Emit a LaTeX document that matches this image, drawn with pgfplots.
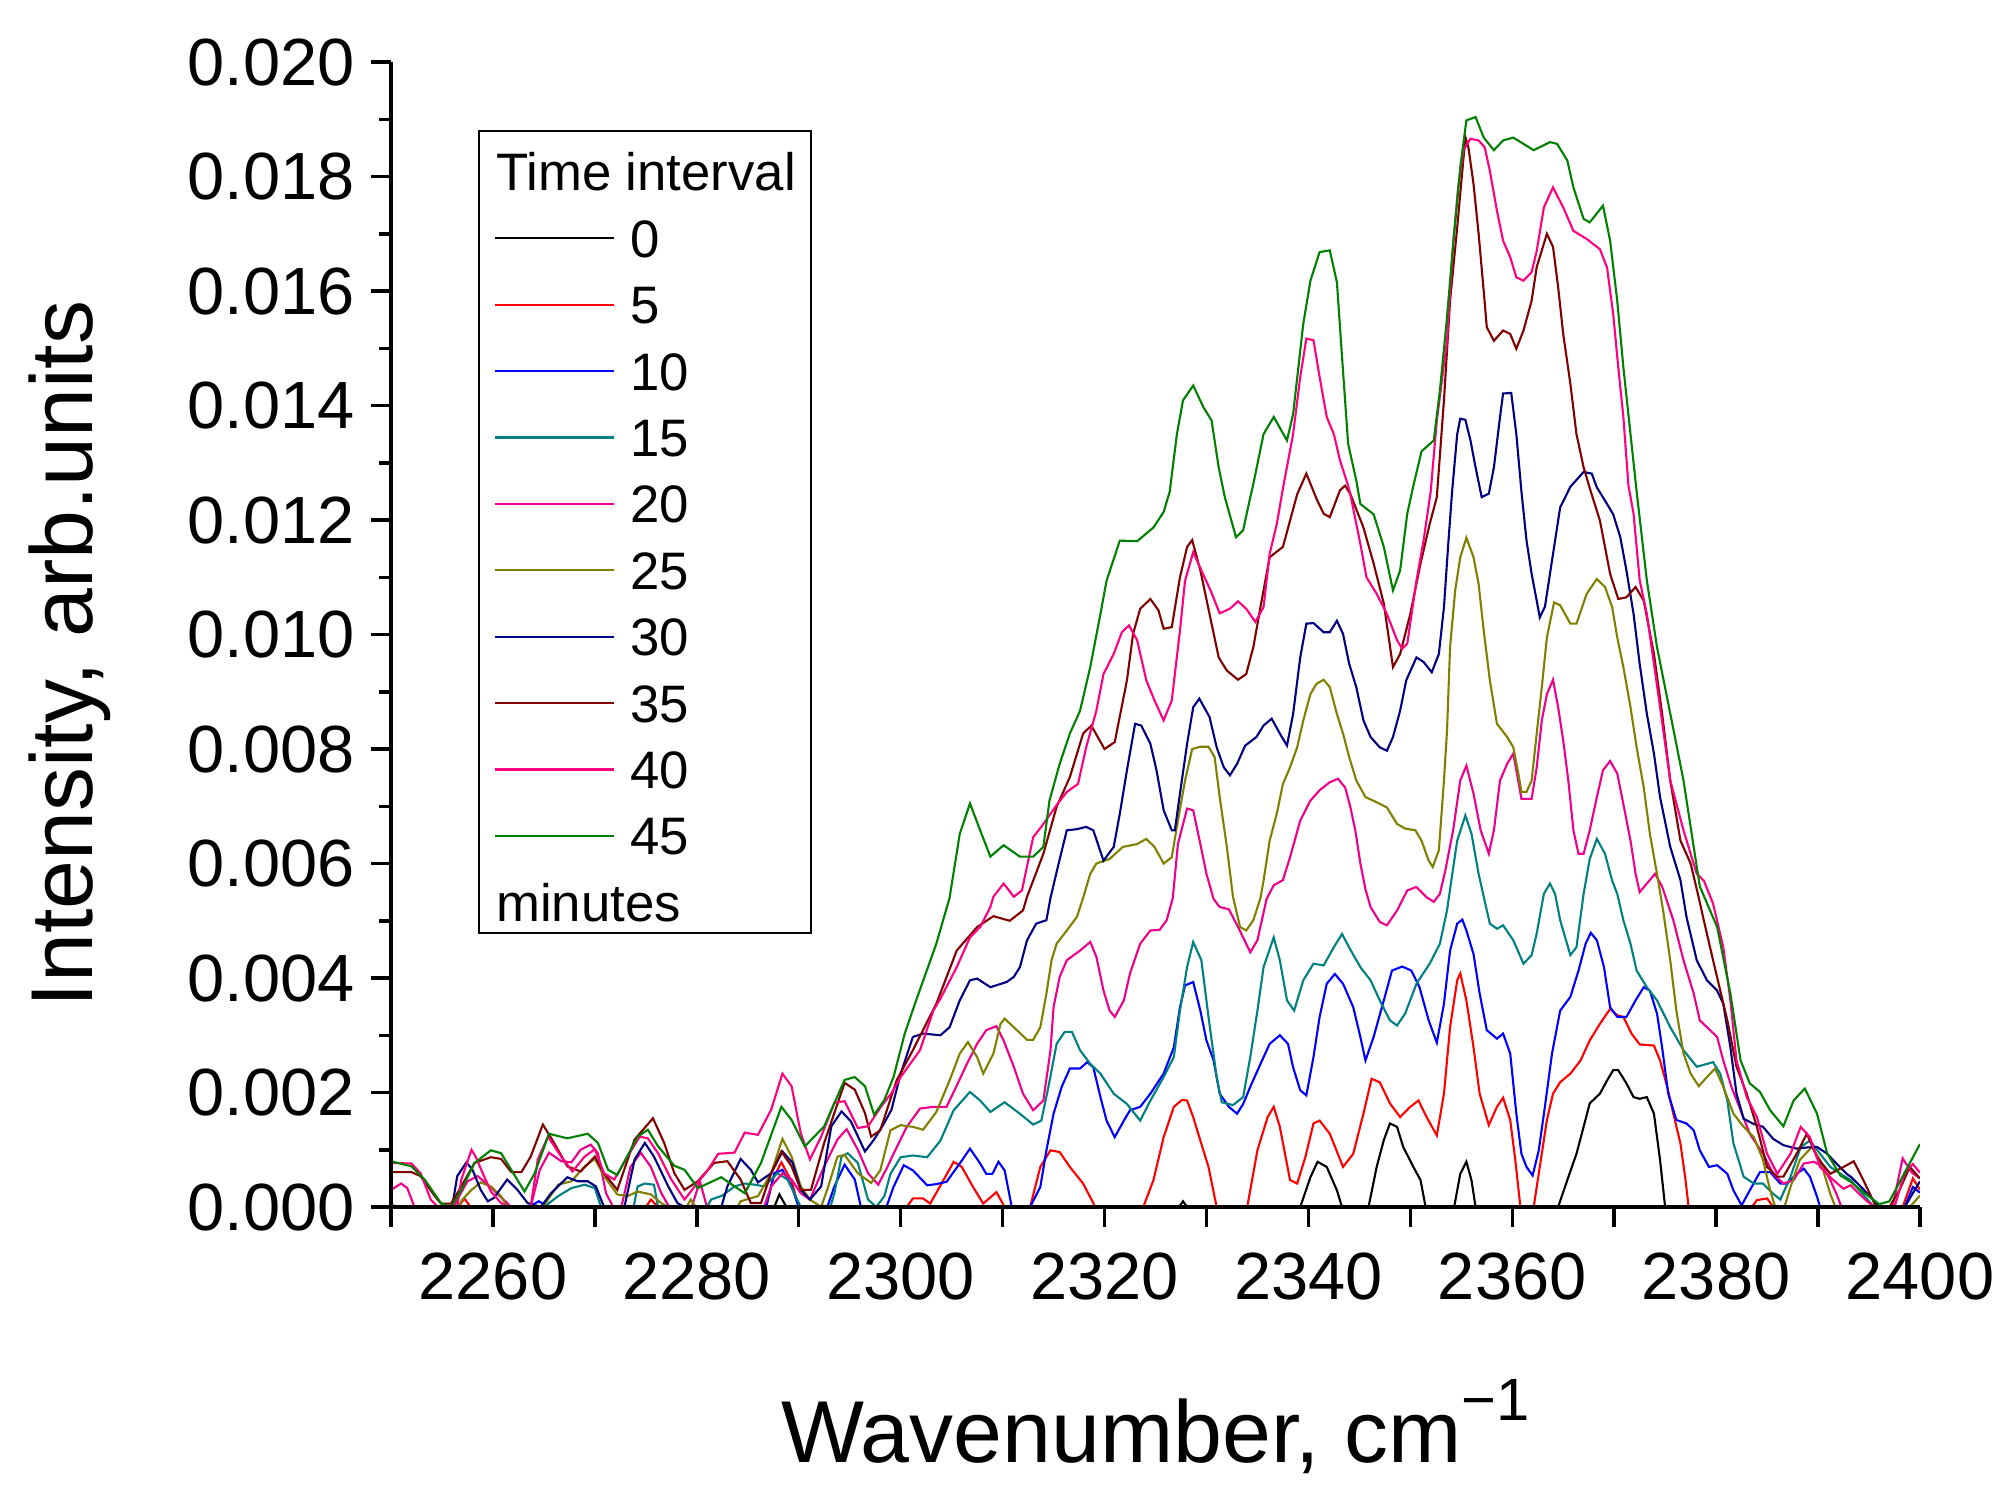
\documentclass[border=0pt]{standalone}
\usepackage{fontspec}
\setmainfont{Liberation Sans}
\usepackage{pgfplots}
\pgfplotsset{compat=1.18}
\definecolor{wine}{RGB}{128,0,0}
\definecolor{navyc}{RGB}{0,0,128}
\definecolor{olivec}{RGB}{128,128,0}
\definecolor{tealc}{RGB}{0,128,128}
\definecolor{pinkc}{RGB}{255,0,128}
\definecolor{greenc}{RGB}{0,128,0}

\begin{document}
\begin{tikzpicture}
\useasboundingbox (-3.91,-2.81) rectangle (16.20,12.07);
\begin{axis}[
  at={(0,0)}, anchor=south west,
  scale only axis, width=15.29cm, height=11.45cm,
  xmin=2250, xmax=2400, ymin=0, ymax=0.020,
  axis lines*=left,
  axis line style={line width=1.1pt},
  axis on top,
  clip=true,
  xtick={2250,2260,2270,2280,2290,2300,2310,2320,2330,2340,2350,2360,2370,2380,2390,2400},
  xticklabels={,2260,,2280,,2300,,2320,,2340,,2360,,2380,,2400},
  ytick={0,0.002,0.004,0.006,0.008,0.010,0.012,0.014,0.016,0.018,0.020},
  yticklabels={0.000,0.002,0.004,0.006,0.008,0.010,0.012,0.014,0.016,0.018,0.020},
  minor ytick={0.001,0.003,0.005,0.007,0.009,0.011,0.013,0.015,0.017,0.019},
  scaled y ticks=false,
  tick align=outside,
  major tick length=0.2cm, minor tick length=0.12cm,
  tick style={line width=1pt, black},
  ticklabel style={font=\fontsize{19}{22}\selectfont},
  xticklabel style={yshift=-0.13cm},
  yticklabel style={xshift=-0.04cm},
  xlabel={Wavenumber, cm\raisebox{0.42cm}{\fontsize{17}{20}\selectfont −1}},
  ylabel={Intensity, arb.units},
  label style={font=\fontsize{25}{30}\selectfont},
  xlabel style={at={(axis description cs:0.5,-0.2227)}, anchor=base},
  ylabel style={at={(axis description cs:-0.1955,0.483)}, anchor=base},
  every axis plot/.append style={line width=0.6pt, no markers, sharp plot},
  legend cell align=left,
  legend image code/.code={\draw[#1] (0cm,0cm) -- (1.19cm,0cm);},
  legend style={at={(axis description cs:0.057,0.9406)}, anchor=north west,
    draw=black, line width=0.5pt, fill=white,
    font=\fontsize{15}{18}\selectfont,
    inner xsep=0.15cm, inner ysep=0.05cm,
    row sep=0.144cm, column sep=0.15cm,
    nodes={inner sep=0pt, text height=0.45cm, text depth=0.07cm}},
]
\addlegendimage{legend image code/.code={\path[draw=none,fill=none] (0cm,0cm) -- (0cm,0.36cm);}}
\addlegendentry{\hspace{-1.34cm}Time interval}

% 0 min
\addplot[black] coordinates {
(2250,0) (2287.6,0) (2288.1,0.00022) (2288.8,0) (2327.3,0) (2327.7,0.0001) (2328.1,0) (2339.2,0) (2340.2,0.00052) (2340.9,0.00079) (2341.8,0.00070) (2342.8,0.00029) (2343.3,0) (2345.9,0) (2346.7,0.00070) (2347.4,0.00117) (2348.0,0.00146) (2348.7,0.00140) (2349.3,0.00105) (2350.3,0.00070) (2351.0,0.00047) (2351.5,0) (2354.3,0) (2354.9,0.00058) (2355.5,0.00079) (2356.0,0.00047) (2356.4,0) (2364.5,0) (2365.4,0.00047) (2366.3,0.00093) (2367.0,0.00140) (2367.6,0.00181) (2368.6,0.00198) (2369.3,0.00221) (2369.9,0.00239) (2370.4,0.00239) (2371.2,0.00216) (2371.9,0.00192) (2372.5,0.00189) (2373.2,0.00192) (2373.9,0.00163) (2374.5,0.00082) (2375.0,0) (2400,0)
};
\addlegendentry{0}

% 5 min
\addplot[red] coordinates {
(2250,0) (2256.6,0) (2257.2,0.00015) (2257.8,0) (2275.0,0) (2275.5,0.00013) (2276.2,0) (2286.8,0) (2287.5,0.00050) (2288.3,0.00078) (2289.3,0.00045) (2290.0,0) (2300.6,0) (2301.2,0.00015) (2302.2,0.00015) (2302.9,0.00006) (2304.2,0.00047) (2305.2,0.00079) (2306.0,0.00070) (2307.1,0.00035) (2308.1,0.00006) (2309.4,0.00026) (2310.2,0) (2312.7,0) (2313.7,0.00070) (2314.7,0.00099) (2315.6,0.00096) (2316.6,0.00070) (2317.9,0.00041) (2319.1,0) (2323.8,0) (2324.8,0.00047) (2325.8,0.00122) (2326.8,0.00175) (2327.6,0.00187) (2328.1,0.00186) (2328.7,0.00157) (2329.4,0.00116) (2330.2,0.00070) (2331.0,0) (2334.0,0) (2335.0,0.00099) (2336.0,0.00157) (2336.6,0.00175) (2337.2,0.00140) (2338.2,0.00047) (2338.9,0.00041) (2339.7,0.00087) (2340.5,0.00146) (2341.1,0.00151) (2342.1,0.00128) (2343.4,0.00070) (2344.4,0.00093) (2345.4,0.00163) (2346.2,0.00224) (2347.0,0.00218) (2348.0,0.00181) (2349.0,0.00157) (2350.0,0.00175) (2350.8,0.00186) (2351.6,0.00157) (2352.6,0.00125) (2353.3,0.00198) (2353.9,0.00314) (2354.6,0.00396) (2354.9,0.00408) (2355.5,0.00361) (2356.2,0.00279) (2356.8,0.00198) (2357.7,0.00143) (2358.5,0.00175) (2359.1,0.00191) (2359.8,0.00152) (2360.3,0.00082) (2360.8,0) (2362.1,0) (2362.7,0.00070) (2363.4,0.00152) (2364.0,0.00198) (2364.7,0.00218) (2365.7,0.00233) (2366.7,0.00256) (2367.6,0.00291) (2368.6,0.00320) (2369.6,0.00346) (2370.3,0.00335) (2370.9,0.00332) (2371.7,0.00303) (2372.5,0.00284) (2373.9,0.00282) (2374.5,0.00256) (2375.2,0.00210) (2375.8,0.00163) (2376.5,0.00111) (2377.0,0.00047) (2377.3,0) (2383.5,0) (2384.0,0.00012) (2385.0,0.00015) (2385.6,0) (2398.3,0) (2399.3,0.00050) (2400,0.00030)
};
\addlegendentry{5}

% 10 min
\addplot[blue] coordinates {
(2250,0) (2263.5,0) (2264.5,0.00010) (2265.5,0) (2286.8,0) (2287.6,0.00059) (2288.4,0.00065) (2289.3,0.00036) (2290.0,0) (2292.8,0) (2293.5,0.00036) (2294.5,0.00074) (2295.5,0.00048) (2296.1,0) (2298.6,0) (2299.3,0.00035) (2300.3,0.00073) (2301.2,0.00064) (2302.6,0.00038) (2303.5,0.00040) (2304.5,0.00044) (2305.8,0.00076) (2306.8,0.00102) (2307.8,0.00076) (2308.4,0.00058) (2309.0,0.00058) (2309.6,0.00079) (2310.2,0.00064) (2310.9,0) (2312.7,0) (2313.7,0.00035) (2314.3,0.00099) (2315.0,0.00163) (2315.8,0.00210) (2316.6,0.00242) (2317.6,0.00242) (2318.3,0.00253) (2318.9,0.00244) (2319.6,0.00192) (2320.2,0.00151) (2321.0,0.00122) (2321.9,0.00151) (2322.5,0.00169) (2323.5,0.00175) (2324.5,0.00198) (2325.8,0.00233) (2326.8,0.00279) (2327.4,0.00349) (2327.9,0.00387) (2328.7,0.00393) (2329.4,0.00343) (2330.0,0.00291) (2330.7,0.00256) (2331.3,0.00198) (2332.2,0.00175) (2333.0,0.00163) (2333.6,0.00180) (2334.3,0.00210) (2335.3,0.00250) (2336.2,0.00285) (2337.2,0.00300) (2338.0,0.00285) (2338.5,0.00244) (2339.2,0.00204) (2339.8,0.00195) (2340.5,0.00262) (2341.1,0.00332) (2341.8,0.00390) (2342.6,0.00407) (2343.4,0.00390) (2344.4,0.00349) (2345.1,0.00297) (2345.6,0.00256) (2346.4,0.00297) (2347.4,0.00361) (2348.2,0.00413) (2349.2,0.00420) (2350.1,0.00413) (2350.9,0.00384) (2351.8,0.00326) (2352.6,0.00287) (2353.3,0.00355) (2353.9,0.00448) (2354.6,0.00495) (2355.1,0.00502) (2355.5,0.00483) (2356.2,0.00442) (2356.8,0.00373) (2357.5,0.00309) (2358.5,0.00294) (2359.1,0.00303) (2359.8,0.00268) (2360.4,0.00163) (2360.9,0.00093) (2361.4,0.00070) (2362.0,0.00055) (2362.6,0.00099) (2363.2,0.00175) (2363.9,0.00268) (2364.7,0.00343) (2365.7,0.00367) (2366.5,0.00413) (2367.2,0.00460) (2367.7,0.00479) (2368.3,0.00466) (2369.0,0.00419) (2369.6,0.00349) (2370.3,0.00332) (2371.2,0.00332) (2372.1,0.00361) (2372.9,0.00384) (2373.5,0.00378) (2374.2,0.00338) (2374.7,0.00279) (2375.3,0.00198) (2376.1,0.00152) (2377.1,0.00146) (2377.8,0.00134) (2378.4,0.00099) (2379.3,0.00070) (2380.1,0.00073) (2381.1,0.00058) (2381.7,0.00029) (2382.5,0.00003) (2383.3,0.00029) (2384.3,0.00061) (2385.3,0.00061) (2386.3,0.00041) (2387.0,0.00041) (2387.9,0.00058) (2388.6,0.00067) (2389.2,0.00053) (2389.9,0.00018) (2390.2,0) (2398.5,0) (2399.3,0.00035) (2400,0.00025)
};
\addlegendentry{10}

% 15 min
\addplot[tealc] coordinates {
(2250,0) (2265.0,0) (2266.4,0.00019) (2267.7,0.00033) (2269.0,0.00039) (2270.0,0.00033) (2270.6,0) (2273.8,0) (2274.2,0.00036) (2274.9,0.00041) (2275.8,0.00039) (2276.2,0) (2281.0,0) (2281.4,0.00013) (2282.5,0.00020) (2283.7,0.00036) (2284.7,0.00041) (2285.7,0.00039) (2286.6,0.00036) (2287.9,0.00059) (2288.9,0.00048) (2290.2,0) (2293.1,0) (2293.5,0.00024) (2294.2,0.00088) (2294.8,0.00094) (2295.8,0.00077) (2296.8,0.00013) (2297.6,0) (2298.4,0.00019) (2299.0,0.00058) (2300.0,0.00087) (2301.2,0.00090) (2302.6,0.00087) (2303.9,0.00116) (2305.2,0.00169) (2306.8,0.00201) (2307.8,0.00186) (2308.8,0.00166) (2310.2,0.00183) (2311.7,0.00163) (2313.0,0.00144) (2313.8,0.00151) (2314.5,0.00210) (2315.3,0.00285) (2316.1,0.00306) (2316.8,0.00306) (2317.6,0.00274) (2318.6,0.00250) (2319.6,0.00233) (2320.9,0.00198) (2322.2,0.00180) (2323.5,0.00151) (2324.5,0.00186) (2325.8,0.00227) (2326.8,0.00262) (2327.4,0.00343) (2328.1,0.00419) (2328.7,0.00463) (2329.5,0.00431) (2330.2,0.00332) (2331.0,0.00227) (2331.5,0.00183) (2332.6,0.00178) (2333.6,0.00192) (2334.3,0.00262) (2335.0,0.00343) (2335.6,0.00419) (2336.6,0.00471) (2337.2,0.00431) (2337.9,0.00361) (2338.6,0.00343) (2339.5,0.00396) (2340.5,0.00425) (2341.5,0.00422) (2342.5,0.00454) (2343.3,0.00477) (2344.1,0.00450) (2345.1,0.00419) (2346.1,0.00396) (2347.0,0.00361) (2348.0,0.00326) (2348.7,0.00317) (2349.5,0.00338) (2350.6,0.00390) (2351.9,0.00425) (2352.9,0.00460) (2353.6,0.00518) (2354.1,0.00580) (2354.6,0.00640) (2355.4,0.00684) (2356.0,0.00652) (2356.7,0.00582) (2357.2,0.00542) (2357.8,0.00495) (2358.5,0.00486) (2359.1,0.00492) (2360.1,0.00466) (2361.1,0.00425) (2361.9,0.00440) (2362.4,0.00478) (2363.1,0.00547) (2363.7,0.00565) (2364.2,0.00547) (2364.7,0.00501) (2365.7,0.00440) (2366.3,0.00454) (2367.0,0.00547) (2367.6,0.00608) (2368.3,0.00643) (2369.1,0.00617) (2369.8,0.00570) (2370.3,0.00547) (2370.9,0.00501) (2371.6,0.00460) (2372.2,0.00413) (2373.2,0.00384) (2374.2,0.00361) (2375.5,0.00314) (2376.8,0.00274) (2378.1,0.00245) (2379.1,0.00250) (2379.7,0.00253) (2380.4,0.00233) (2381.1,0.00186) (2381.7,0.00111) (2382.7,0.00053) (2383.7,0.00041) (2384.6,0.00041) (2385.6,0.00023) (2386.3,0.00013) (2387.3,0.00053) (2388.3,0.00105) (2389.2,0.00116) (2390.2,0.00093) (2391.2,0.00070) (2392.2,0.00058) (2393.2,0.00047) (2394.5,0.00020) (2395.5,0) (2400,0)
};
\addlegendentry{15}

% 20 min
\addplot[magenta] coordinates {
(2250,0.00030) (2251.0,0.00041) (2251.6,0.00033) (2252.3,0) (2256.2,0) (2256.5,0.00013) (2257.5,0.00045) (2258.5,0.00054) (2259.5,0.00039) (2260.5,0.00022) (2261.4,0.00007) (2261.8,0) (2263.7,0) (2264.6,0.00065) (2265.5,0.00095) (2266.7,0.00080) (2267.7,0.00078) (2268.6,0.00100) (2269.6,0.00109) (2270.3,0.00094) (2271.1,0.00024) (2271.8,0) (2272.6,0) (2273.5,0.00070) (2274.5,0.00095) (2275.5,0.00070) (2276.5,0.00025) (2277.3,0) (2279.5,0) (2280.3,0.00045) (2281.0,0) (2286.6,0) (2287.3,0.00036) (2288.4,0.00059) (2289.3,0.00048) (2290.2,0.00024) (2291.1,0.00013) (2292.5,0.00071) (2293.8,0.00118) (2294.7,0.00136) (2295.8,0.00100) (2296.8,0.00059) (2297.8,0.00039) (2298.7,0.00070) (2299.3,0.00093) (2300.6,0.00140) (2301.9,0.00172) (2303.2,0.00175) (2304.5,0.00175) (2305.5,0.00212) (2306.5,0.00250) (2307.5,0.00285) (2308.4,0.00309) (2309.4,0.00316) (2310.1,0.00291) (2311.1,0.00245) (2312.0,0.00198) (2313.0,0.00169) (2314.0,0.00186) (2314.7,0.00274) (2315.0,0.00349) (2315.6,0.00402) (2316.3,0.00431) (2317.6,0.00448) (2318.6,0.00463) (2319.2,0.00437) (2319.9,0.00378) (2320.5,0.00343) (2321.0,0.00332) (2321.9,0.00361) (2322.5,0.00408) (2323.5,0.00460) (2324.5,0.00483) (2325.4,0.00484) (2326.1,0.00501) (2326.7,0.00540) (2327.2,0.00634) (2328.1,0.00696) (2328.7,0.00693) (2329.4,0.00634) (2330.0,0.00582) (2330.7,0.00538) (2331.3,0.00524) (2332.2,0.00520) (2333.1,0.00489) (2334.3,0.00445) (2335.0,0.00466) (2335.9,0.00538) (2336.6,0.00562) (2337.5,0.00571) (2338.2,0.00611) (2339.2,0.00675) (2340.2,0.00710) (2341.1,0.00728) (2342.1,0.00742) (2342.9,0.00748) (2343.6,0.00733) (2344.1,0.00700) (2344.6,0.00658) (2345.1,0.00600) (2345.6,0.00555) (2346.1,0.00524) (2347.0,0.00498) (2347.7,0.00492) (2348.7,0.00518) (2349.7,0.00553) (2350.6,0.00559) (2351.6,0.00541) (2352.3,0.00533) (2352.9,0.00547) (2353.4,0.00585) (2354.2,0.00658) (2354.9,0.00745) (2355.5,0.00771) (2356.2,0.00722) (2356.9,0.00658) (2357.7,0.00617) (2358.2,0.00658) (2358.8,0.00745) (2359.5,0.00774) (2360.1,0.00792) (2360.4,0.00763) (2360.9,0.00713) (2361.9,0.00713) (2362.4,0.00768) (2362.9,0.00850) (2363.4,0.00896) (2364.0,0.00921) (2364.5,0.00873) (2365.0,0.00815) (2365.5,0.00745) (2366.0,0.00658) (2366.5,0.00617) (2367.0,0.00617) (2367.6,0.00658) (2368.3,0.00716) (2368.9,0.00763) (2369.6,0.00779) (2370.3,0.00757) (2370.9,0.00704) (2371.6,0.00640) (2372.1,0.00582) (2372.5,0.00550) (2373.2,0.00565) (2374.0,0.00582) (2374.7,0.00560) (2375.8,0.00501) (2376.8,0.00431) (2377.8,0.00373) (2378.4,0.00326) (2379.4,0.00309) (2380.1,0.00297) (2380.7,0.00256) (2381.5,0.00210) (2382.4,0.00169) (2383.3,0.00128) (2384.6,0.00093) (2385.6,0.00058) (2386.6,0.00041) (2387.6,0.00047) (2388.6,0.00076) (2389.6,0.00079) (2390.5,0.00070) (2391.2,0.00047) (2391.8,0.00023) (2392.3,0) (2397.3,0) (2398.3,0.00085) (2399.2,0.00060) (2400,0.00050)
};
\addlegendentry{20}

% 25 min
\addplot[olivec] coordinates {
(2250,0.00004) (2250.8,0) (2256.6,0) (2257.0,0.00013) (2257.9,0.00030) (2258.8,0.00043) (2259.8,0.00036) (2260.8,0.00019) (2261.4,0) (2264.9,0) (2265.4,0.00013) (2266.4,0.00039) (2267.7,0.00045) (2269.0,0.00071) (2270.0,0.00084) (2270.9,0.00054) (2272.2,0.00022) (2273.2,0.00019) (2274.2,0.00027) (2275.5,0.00022) (2276.5,0.00007) (2277.2,0) (2279.0,0) (2279.4,0.00013) (2279.9,0) (2284.0,0) (2284.3,0.00010) (2286.0,0.00019) (2287.3,0.00059) (2288.4,0.00119) (2289.3,0.00088) (2290.2,0.00036) (2291.1,0.00013) (2292.2,0) (2292.9,0.00036) (2293.8,0.00088) (2294.5,0.00091) (2295.8,0.00059) (2297.1,0.00042) (2298.0,0.00064) (2299.0,0.00134) (2300.0,0.00143) (2301.2,0.00140) (2302.2,0.00135) (2303.5,0.00166) (2304.8,0.00221) (2305.8,0.00268) (2306.6,0.00288) (2307.5,0.00262) (2308.1,0.00233) (2309.1,0.00268) (2309.8,0.00320) (2310.2,0.00329) (2311.1,0.00314) (2312.4,0.00292) (2313.0,0.00292) (2313.7,0.00314) (2314.3,0.00373) (2314.8,0.00431) (2315.3,0.00460) (2316.3,0.00483) (2317.3,0.00507) (2317.9,0.00540) (2318.6,0.00582) (2319.2,0.00600) (2320.5,0.00608) (2321.8,0.00629) (2323.2,0.00634) (2324.1,0.00643) (2324.9,0.00629) (2325.8,0.00600) (2326.6,0.00611) (2327.2,0.00675) (2327.9,0.00745) (2328.6,0.00800) (2329.4,0.00804) (2330.2,0.00804) (2330.8,0.00786) (2331.3,0.00716) (2332.0,0.00629) (2332.6,0.00542) (2333.3,0.00489) (2333.9,0.00483) (2334.6,0.00501) (2335.3,0.00540) (2335.6,0.00570) (2336.2,0.00640) (2336.9,0.00687) (2337.5,0.00739) (2338.2,0.00768) (2338.9,0.00803) (2339.5,0.00850) (2340.2,0.00896) (2340.8,0.00914) (2341.5,0.00921) (2342.1,0.00908) (2342.8,0.00861) (2343.4,0.00827) (2344.0,0.00786) (2344.7,0.00745) (2345.6,0.00716) (2346.7,0.00707) (2347.7,0.00698) (2348.7,0.00669) (2349.5,0.00661) (2350.5,0.00658) (2351.1,0.00640) (2351.8,0.00605) (2352.2,0.00594) (2352.8,0.00623) (2353.3,0.00745) (2353.6,0.00832) (2353.9,0.00978) (2354.4,0.01077) (2354.9,0.01135) (2355.5,0.01169) (2356.2,0.01135) (2356.7,0.01088) (2357.2,0.01007) (2357.8,0.00920) (2358.5,0.00844) (2359.5,0.00821) (2360.1,0.00803) (2360.6,0.00757) (2360.9,0.00725) (2361.4,0.00725) (2361.9,0.00745) (2362.4,0.00827) (2362.9,0.00908) (2363.4,0.00995) (2364.1,0.01056) (2364.7,0.01051) (2365.7,0.01019) (2366.3,0.01019) (2367.3,0.01071) (2368.3,0.01097) (2369.1,0.01083) (2369.8,0.01048) (2370.3,0.00995) (2370.9,0.00943) (2371.6,0.00873) (2372.2,0.00803) (2372.9,0.00733) (2373.5,0.00652) (2374.2,0.00582) (2374.8,0.00518) (2375.5,0.00431) (2376.1,0.00343) (2376.8,0.00268) (2377.5,0.00233) (2378.3,0.00211) (2379.1,0.00227) (2379.9,0.00242) (2380.7,0.00210) (2381.7,0.00163) (2382.7,0.00140) (2383.7,0.00122) (2384.6,0.00082) (2385.3,0.00029) (2385.8,0) (2386.7,0) (2387.3,0.00035) (2388.2,0.00082) (2389.4,0.00105) (2390.2,0.00082) (2391.2,0.00023) (2391.7,0) (2399.0,0) (2400,0.00020)
};
\addlegendentry{25}

% 30 min
\addplot[navyc] coordinates {
(2250,0) (2256.0,0) (2256.5,0.00054) (2257.4,0.00078) (2258.0,0.00065) (2258.8,0.00030) (2259.5,0.00010) (2260.1,0.00016) (2261.4,0.00048) (2262.4,0.00030) (2263.4,0.00007) (2264.7,0) (2265.7,0.00024) (2267.3,0.00052) (2268.3,0.00045) (2269.3,0.00045) (2270.1,0.00036) (2270.9,0) (2272.9,0) (2273.9,0.00083) (2274.9,0.00112) (2275.8,0.00088) (2277.2,0.00036) (2278.1,0.00007) (2278.8,0) (2282.4,0) (2283.0,0.00036) (2284.3,0.00084) (2285.3,0.00065) (2286.0,0.00043) (2287.3,0.00059) (2288.4,0.00097) (2289.4,0.00077) (2290.2,0.00030) (2291.1,0.00013) (2292.2,0.00036) (2293.2,0.00141) (2294.2,0.00167) (2295.1,0.00150) (2296.5,0.00097) (2297.4,0.00118) (2298.4,0.00147) (2299.1,0.00170) (2300.0,0.00233) (2301.2,0.00297) (2302.2,0.00303) (2303.9,0.00300) (2304.8,0.00314) (2305.8,0.00361) (2306.8,0.00396) (2307.5,0.00399) (2308.8,0.00384) (2310.4,0.00393) (2311.1,0.00402) (2311.7,0.00419) (2312.4,0.00466) (2313.3,0.00495) (2314.3,0.00501) (2314.7,0.00540) (2315.5,0.00600) (2316.3,0.00658) (2317.3,0.00660) (2318.2,0.00664) (2318.9,0.00658) (2319.9,0.00605) (2320.9,0.00629) (2321.5,0.00687) (2322.2,0.00763) (2323.0,0.00844) (2323.6,0.00841) (2324.5,0.00809) (2325.1,0.00763) (2325.8,0.00693) (2326.6,0.00658) (2326.9,0.00658) (2327.4,0.00722) (2328.1,0.00809) (2328.7,0.00873) (2329.3,0.00888) (2330.3,0.00856) (2331.0,0.00803) (2331.7,0.00768) (2332.3,0.00754) (2333.0,0.00774) (2333.8,0.00806) (2334.9,0.00821) (2335.6,0.00841) (2336.4,0.00853) (2337.2,0.00827) (2337.9,0.00806) (2338.5,0.00861) (2339.2,0.00960) (2339.8,0.01019) (2340.5,0.01020) (2341.5,0.01004) (2342.1,0.01004) (2342.8,0.01024) (2343.4,0.01001) (2344.0,0.00949) (2344.7,0.00908) (2345.4,0.00850) (2346.1,0.00821) (2347.0,0.00803) (2347.7,0.00797) (2348.3,0.00821) (2349.0,0.00867) (2349.6,0.00920) (2350.6,0.00960) (2351.3,0.00952) (2352.1,0.00934) (2352.8,0.00966) (2353.3,0.01048) (2353.7,0.01153) (2354.1,0.01250) (2354.6,0.01350) (2354.9,0.01377) (2355.4,0.01375) (2355.9,0.01339) (2356.4,0.01292) (2357.0,0.01240) (2357.7,0.01246) (2358.2,0.01292) (2358.8,0.01380) (2359.1,0.01421) (2359.9,0.01422) (2360.4,0.01350) (2360.9,0.01250) (2361.4,0.01164) (2361.9,0.01106) (2362.4,0.01059) (2362.7,0.01030) (2363.2,0.01048) (2363.7,0.01106) (2364.2,0.01164) (2364.7,0.01222) (2365.7,0.01258) (2367.0,0.01284) (2367.8,0.01281) (2368.3,0.01257) (2369.3,0.01228) (2369.9,0.01210) (2370.6,0.01170) (2371.2,0.01112) (2371.9,0.01036) (2372.5,0.00949) (2373.2,0.00862) (2373.9,0.00792) (2374.5,0.00716) (2375.5,0.00629) (2376.5,0.00571) (2377.1,0.00506) (2378.1,0.00431) (2379.1,0.00396) (2380.1,0.00378) (2380.7,0.00355) (2381.4,0.00279) (2382.0,0.00198) (2382.7,0.00154) (2383.7,0.00145) (2384.6,0.00140) (2385.6,0.00119) (2386.6,0.00108) (2387.9,0.00102) (2388.9,0.00104) (2389.9,0.00105) (2390.9,0.00093) (2391.8,0.00076) (2392.8,0.00058) (2393.2,0.00053) (2394.5,0.00030) (2396.0,0) (2398.5,0) (2400,0.00045)
};
\addlegendentry{30}

% 35 min
\addplot[wine] coordinates {
(2250,0.00061) (2252.0,0.00061) (2252.9,0.00054) (2254.3,0.00019) (2254.9,0.00006) (2255.9,0.00006) (2256.9,0.00036) (2258.2,0.00077) (2259.8,0.00087) (2260.8,0.00084) (2261.8,0.00061) (2262.8,0.00061) (2263.7,0.00088) (2264.9,0.00144) (2266.0,0.00112) (2267.3,0.00071) (2268.6,0.00062) (2270.0,0.00088) (2270.9,0.00059) (2272.2,0.00030) (2273.9,0.00118) (2275.7,0.00155) (2276.8,0.00112) (2277.8,0.00059) (2278.8,0.00030) (2280.1,0.00045) (2281.7,0.00077) (2283.0,0.00080) (2284.3,0.00048) (2285.3,0.00007) (2286.3,0.00007) (2287.3,0.00059) (2288.3,0.00097) (2289.3,0.00071) (2290.2,0.00030) (2291.2,0.00030) (2292.5,0.00112) (2294.5,0.00217) (2295.5,0.00205) (2296.5,0.00164) (2297.1,0.00123) (2298.0,0.00134) (2299.6,0.00221) (2301.2,0.00274) (2303.5,0.00355) (2305.5,0.00448) (2307.5,0.00489) (2309.1,0.00508) (2310.7,0.00500) (2312.0,0.00518) (2312.4,0.00542) (2314.0,0.00617) (2315.3,0.00699) (2316.6,0.00751) (2317.9,0.00827) (2318.7,0.00841) (2320.0,0.00800) (2321.0,0.00812) (2322.2,0.00920) (2322.8,0.01001) (2323.5,0.01045) (2324.5,0.01062) (2325.3,0.01042) (2325.8,0.01010) (2326.6,0.01013) (2327.4,0.01100) (2328.1,0.01153) (2328.6,0.01165) (2329.4,0.01112) (2330.3,0.01036) (2331.2,0.00960) (2332.0,0.00937) (2333.1,0.00921) (2333.9,0.00931) (2334.6,0.00978) (2335.3,0.01048) (2336.2,0.01135) (2337.5,0.01153) (2338.2,0.01199) (2338.9,0.01245) (2339.8,0.01281) (2340.8,0.01237) (2341.5,0.01211) (2342.1,0.01205) (2343.1,0.01252) (2343.6,0.01260) (2344.1,0.01246) (2345.4,0.01187) (2346.4,0.01124) (2347.4,0.01054) (2348.3,0.00943) (2349.0,0.00966) (2350.0,0.01036) (2351.0,0.01124) (2351.9,0.01193) (2352.6,0.01240) (2353.3,0.01409) (2353.9,0.01583) (2354.6,0.01711) (2355.4,0.01869) (2355.7,0.01851) (2356.2,0.01787) (2356.7,0.01700) (2357.2,0.01600) (2357.5,0.01537) (2358.2,0.01513) (2359.1,0.01531) (2359.8,0.01525) (2360.4,0.01499) (2361.1,0.01531) (2361.9,0.01583) (2362.4,0.01642) (2363.4,0.01700) (2364.0,0.01677) (2364.5,0.01607) (2365.0,0.01525) (2365.7,0.01438) (2366.3,0.01350) (2367.0,0.01292) (2367.7,0.01250) (2368.6,0.01199) (2369.6,0.01106) (2370.4,0.01062) (2371.2,0.01065) (2372.1,0.01083) (2372.9,0.01059) (2373.9,0.00966) (2374.7,0.00862) (2375.5,0.00745) (2376.5,0.00640) (2377.5,0.00600) (2378.3,0.00540) (2378.8,0.00500) (2379.7,0.00431) (2381.1,0.00326) (2382.0,0.00245) (2383.0,0.00198) (2384.0,0.00140) (2385.0,0.00070) (2386.0,0.00053) (2386.6,0.00053) (2387.9,0.00093) (2388.9,0.00128) (2389.9,0.00087) (2391.2,0.00058) (2392.5,0.00070) (2393.5,0.00080) (2394.5,0.00045) (2395.7,0) (2397.0,0) (2398.0,0.00030) (2399.0,0.00070) (2400,0.00050)
};
\addlegendentry{35}

% 40 min
\addplot[pinkc] coordinates {
(2250,0.00077) (2252.0,0.00076) (2252.9,0.00059) (2253.9,0.00013) (2254.6,0) (2256.5,0) (2256.9,0.00048) (2257.9,0.00100) (2258.3,0.00088) (2259.0,0.00059) (2259.8,0.00027) (2260.8,0.00007) (2261.4,0) (2263.7,0) (2264.4,0.00083) (2265.4,0.00123) (2266.7,0.00088) (2267.8,0.00062) (2269.0,0.00088) (2270.0,0.00101) (2270.9,0.00059) (2271.9,0.00048) (2273.2,0.00088) (2274.4,0.00123) (2275.2,0.00120) (2276.2,0.00094) (2277.5,0.00048) (2278.8,0.00013) (2279.8,0.00036) (2281.1,0.00065) (2282.1,0.00093) (2283.7,0.00095) (2284.7,0.00130) (2286.0,0.00126) (2287.3,0.00170) (2288.4,0.00233) (2289.3,0.00211) (2290.2,0.00129) (2291.1,0.00083) (2292.2,0.00123) (2293.5,0.00182) (2294.5,0.00185) (2295.8,0.00138) (2296.8,0.00141) (2298.1,0.00176) (2299.1,0.00199) (2300.0,0.00227) (2301.9,0.00274) (2303.2,0.00343) (2303.9,0.00364) (2305.5,0.00419) (2306.8,0.00471) (2307.8,0.00489) (2308.8,0.00524) (2309.1,0.00542) (2310.1,0.00565) (2311.1,0.00542) (2311.9,0.00553) (2313.0,0.00646) (2314.0,0.00669) (2315.3,0.00702) (2316.3,0.00725) (2317.4,0.00739) (2318.2,0.00803) (2319.2,0.00867) (2319.9,0.00931) (2320.9,0.00966) (2321.7,0.01004) (2322.4,0.01016) (2323.2,0.00990) (2324.1,0.00920) (2324.9,0.00885) (2325.8,0.00850) (2326.6,0.00885) (2327.4,0.01007) (2327.9,0.01094) (2328.7,0.01144) (2329.5,0.01112) (2330.4,0.01077) (2331.3,0.01037) (2332.3,0.01045) (2333.1,0.01058) (2333.9,0.01045) (2334.8,0.01022) (2335.6,0.01048) (2336.2,0.01141) (2336.9,0.01193) (2337.5,0.01255) (2338.5,0.01350) (2339.2,0.01450) (2339.8,0.01517) (2340.5,0.01514) (2341.1,0.01450) (2341.8,0.01380) (2342.5,0.01350) (2343.1,0.01304) (2343.9,0.01260) (2344.1,0.01246) (2345.1,0.01158) (2345.7,0.01100) (2346.7,0.01071) (2347.7,0.01036) (2348.7,0.00990) (2349.2,0.00975) (2349.7,0.00984) (2350.6,0.01094) (2351.3,0.01164) (2352.0,0.01250) (2352.6,0.01374) (2353.6,0.01514) (2354.2,0.01682) (2354.7,0.01781) (2355.2,0.01846) (2355.9,0.01866) (2356.7,0.01863) (2357.3,0.01851) (2357.8,0.01810) (2358.5,0.01740) (2359.1,0.01688) (2359.8,0.01659) (2360.4,0.01624) (2361.1,0.01618) (2361.9,0.01633) (2362.4,0.01670) (2363.1,0.01746) (2364.0,0.01781) (2365.0,0.01746) (2366.0,0.01705) (2367.3,0.01691) (2368.6,0.01673) (2369.3,0.01641) (2369.9,0.01560) (2370.4,0.01467) (2370.9,0.01380) (2371.4,0.01260) (2371.9,0.01211) (2372.5,0.01095) (2373.2,0.01036) (2373.9,0.00949) (2374.5,0.00873) (2375.5,0.00745) (2376.8,0.00658) (2378.1,0.00582) (2378.8,0.00570) (2379.7,0.00530) (2380.7,0.00454) (2381.4,0.00361) (2382.0,0.00256) (2383.0,0.00192) (2384.0,0.00157) (2385.0,0.00093) (2386.0,0.00058) (2387.3,0.00093) (2388.3,0.00140) (2389.2,0.00122) (2390.2,0.00070) (2391.5,0.00047) (2392.5,0.00032) (2393.2,0.00038) (2394.5,0.00015) (2395.5,0) (2397.5,0) (2398.5,0.00060) (2399.3,0.00075) (2400,0.00060)
};
\addlegendentry{40}

% 45 min
\addplot[greenc] coordinates {
(2250,0.00080) (2252.0,0.00071) (2253.3,0.00048) (2254.9,0.00007) (2255.9,0) (2256.9,0.00030) (2258.2,0.00077) (2259.8,0.00099) (2260.8,0.00094) (2261.8,0.00065) (2263.1,0.00027) (2264.1,0.00059) (2265.5,0.00128) (2267.3,0.00120) (2269.3,0.00128) (2270.3,0.00112) (2271.3,0.00065) (2272.2,0.00056) (2274.2,0.00123) (2275.2,0.00135) (2276.2,0.00106) (2277.8,0.00072) (2278.8,0.00065) (2280.1,0.00033) (2282.4,0.00052) (2284.7,0.00024) (2286.3,0.00077) (2288.3,0.00175) (2289.3,0.00152) (2290.6,0.00106) (2292.5,0.00141) (2294.5,0.00222) (2295.5,0.00227) (2296.5,0.00211) (2297.4,0.00161) (2298.4,0.00187) (2299.3,0.00227) (2300.4,0.00303) (2301.5,0.00360) (2302.5,0.00410) (2303.5,0.00460) (2304.8,0.00540) (2305.8,0.00652) (2306.8,0.00705) (2307.8,0.00658) (2308.8,0.00612) (2310.1,0.00632) (2311.7,0.00612) (2313.0,0.00612) (2314.0,0.00629) (2314.6,0.00710) (2315.6,0.00774) (2316.6,0.00827) (2317.6,0.00867) (2318.6,0.00943) (2319.6,0.01036) (2320.2,0.01094) (2321.5,0.01164) (2323.2,0.01163) (2324.8,0.01187) (2325.8,0.01214) (2326.4,0.01250) (2327.1,0.01350) (2327.7,0.01409) (2328.7,0.01435) (2329.7,0.01397) (2330.5,0.01374) (2331.2,0.01292) (2331.8,0.01240) (2332.9,0.01170) (2333.6,0.01182) (2334.3,0.01240) (2334.6,0.01263) (2335.6,0.01350) (2336.6,0.01380) (2337.9,0.01339) (2338.5,0.01385) (2339.5,0.01543) (2340.2,0.01618) (2341.1,0.01668) (2342.1,0.01671) (2342.8,0.01615) (2343.3,0.01485) (2343.9,0.01333) (2344.7,0.01269) (2345.1,0.01228) (2346.4,0.01210) (2347.4,0.01153) (2348.3,0.01077) (2349.0,0.01112) (2349.7,0.01211) (2350.3,0.01260) (2351.1,0.01320) (2352.3,0.01339) (2352.9,0.01426) (2353.6,0.01554) (2354.2,0.01682) (2354.9,0.01816) (2355.5,0.01898) (2356.4,0.01904) (2357.2,0.01868) (2358.2,0.01846) (2359.1,0.01863) (2360.1,0.01868) (2361.1,0.01857) (2362.1,0.01846) (2363.7,0.01860) (2364.4,0.01857) (2365.4,0.01828) (2366.0,0.01781) (2367.0,0.01726) (2367.6,0.01720) (2368.9,0.01749) (2369.6,0.01688) (2370.3,0.01583) (2370.9,0.01467) (2371.6,0.01350) (2372.2,0.01250) (2373.2,0.01095) (2374.2,0.00978) (2375.5,0.00862) (2376.8,0.00745) (2377.8,0.00629) (2378.4,0.00560) (2380.1,0.00489) (2381.4,0.00373) (2382.4,0.00256) (2383.3,0.00216) (2384.3,0.00201) (2385.3,0.00169) (2386.6,0.00141) (2387.6,0.00186) (2388.7,0.00207) (2389.9,0.00163) (2390.9,0.00093) (2392.2,0.00055) (2393.2,0.00044) (2394.5,0.00025) (2396.0,0.00005) (2397.0,0.00010) (2398.5,0.00060) (2400,0.00110)
};
\addlegendentry{45}

\addlegendimage{empty legend}
\addlegendentry{\hspace{-1.34cm}minutes}
\end{axis}
\end{tikzpicture}
\end{document}
